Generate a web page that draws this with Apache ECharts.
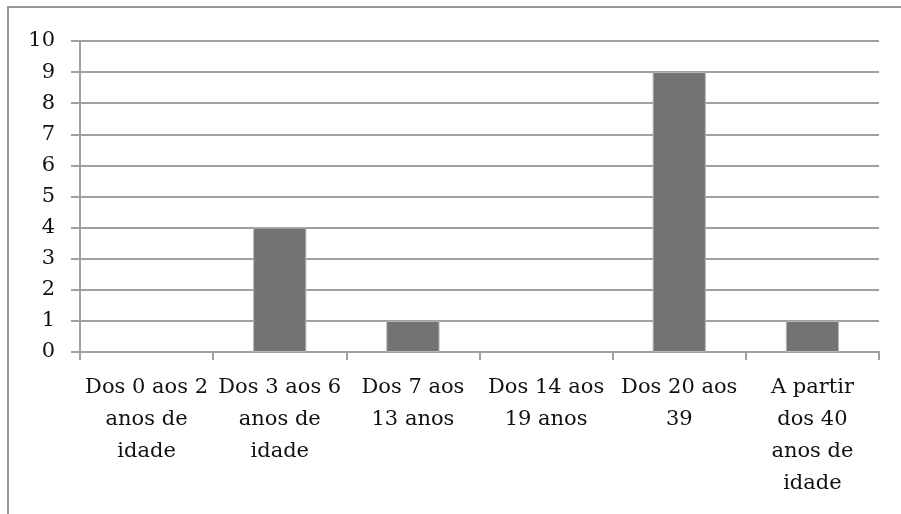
<!DOCTYPE html>
<html>
<head>
<meta charset="utf-8">
<script src="https://cdn.jsdelivr.net/npm/echarts@6/dist/echarts.min.js"></script>
<style>
  html, body { margin: 0; padding: 0; background: #fff; }
  #chart { width: 901px; height: 514px; }
</style>
</head>
<body>
<div id="chart"></div>
<script>
// Age groups (faixas etárias) and number of people in each
const categories = [
  'Dos 0 aos 2\nanos de\nidade',
  'Dos 3 aos 6\nanos de\nidade',
  'Dos 7 aos\n13 anos',
  'Dos 14 aos\n19 anos',
  'Dos 20 aos\n39',
  'A partir\ndos 40\nanos de\nidade'
];
const counts = [0, 4, 1, 0, 9, 1];
const yMin = 0;
const yMax = 10;
const yStep = 1;

const FONT = '"DejaVu Serif", "Liberation Serif", serif';
const GRID = '#a0a0a0';

// empty groups get no outline so nothing shows on the baseline
const barData = counts.map(v => ({
  value: v,
  itemStyle: { borderWidth: v === 0 ? 0 : 1 }
}));

const chart = echarts.init(document.getElementById('chart'), null, { renderer: 'canvas' });
chart.setOption({
  animation: false,
  backgroundColor: '#ffffff',
  graphic: [{
    type: 'rect',
    shape: { x: 8, y: 7, width: 1000, height: 600 },
    style: { fill: 'none', stroke: '#9a9a9a', lineWidth: 2 },
    silent: true
  }],
  grid: { left: 80, right: 22, top: 41, bottom: 162 },
  xAxis: {
    type: 'category',
    data: categories,
    boundaryGap: true,
    axisLine: { lineStyle: { color: GRID, width: 2 } },
    axisTick: { show: true, length: 8, lineStyle: { color: GRID, width: 2 } },
    axisLabel: {
      interval: 0,
      hideOverlap: false,
      margin: 20,
      color: '#111',
      fontFamily: FONT,
      fontSize: 21,
      lineHeight: 32,
      align: 'center'
    },
    splitLine: { show: false }
  },
  yAxis: {
    type: 'value',
    min: yMin,
    max: yMax,
    interval: yStep,
    axisLine: { show: true, lineStyle: { color: GRID, width: 2 } },
    axisTick: { show: true, length: 9, lineStyle: { color: GRID, width: 2 } },
    axisLabel: {
      margin: 25,
      color: '#111',
      fontFamily: FONT,
      fontSize: 21
    },
    splitLine: { show: true, lineStyle: { color: GRID, width: 2 } }
  },
  series: [{
    type: 'bar',
    data: barData,
    barWidth: '40%',
    z: 3,
    itemStyle: { color: '#737373', borderColor: '#b8b8b8', borderWidth: 1 }
  }]
});
</script>
</body>
</html>
